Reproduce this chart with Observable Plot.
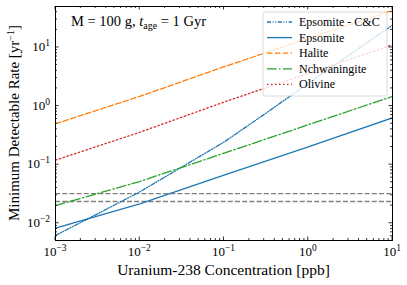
<!DOCTYPE html>
<html><head><meta charset="utf-8">
<script src="https://cdn.jsdelivr.net/npm/d3@7"></script>
<script src="https://cdn.jsdelivr.net/npm/@observablehq/plot@0.6"></script>
<style>body{margin:0;background:#fff} svg text, svg tspan{font-family:"Liberation Serif","Times New Roman",serif !important}</style>
</head><body><div id="chart"></div>
<script>
// Data (x: Uranium-238 concentration [ppb], y: minimum detectable rate [1/yr])
const concentration = [0.001, 0.01, 0.1, 1, 10];
const concentrationCC = [0.001, 0.00316, 0.01, 0.0316, 0.1, 0.316, 1, 3.16, 10];
const epsomiteCC = [0.0062, 0.0145, 0.0343, 0.0912, 0.243, 0.759, 2.45, 7.67, 24.0];
const epsomite = [0.0083, 0.0214, 0.066, 0.202, 0.63];
const halite = [0.50, 1.46, 4.69, 14.2, 42.8];
const nchwaningite = [0.020, 0.0516, 0.157, 0.48, 1.46];
const olivine = [0.12, 0.357, 1.17, 3.61, 11.1];
const thresholds = [0.032, 0.0235];
const xMajor = [0.001, 0.01, 0.1, 1, 10];
const yMajor = [0.01, 0.1, 1, 10];
const seriesNames = ["Epsomite - C&C", "Epsomite", "Halite", "Nchwaningite", "Olivine"];
const seriesColors = ["#1f77b4", "#1f77b4", "#ff7f0e", "#2ca02c", "#d62728"];
const seriesDash = ["4,1.6,1,1.6,1,1.6", null, "5.5,2.4", "9.6,2.4,1.5,2.4", "1.5,2.5"];

const seriesValues = [epsomiteCC, epsomite, halite, nchwaningite, olivine];
const rows = seriesNames.flatMap((name, i) => {
  const xs = i === 0 ? concentrationCC : concentration;
  return seriesValues[i].map((v, j) => ({series: name, x: xs[j], y: v}));
});

const plot = Plot.plot({
  width: 407, height: 285,
  marginLeft: 55, marginRight: 15, marginTop: 6, marginBottom: 45,
  x: {type: "log", domain: [1e-3, 10], axis: null},
  y: {type: "log", domain: [0.00508, 50], axis: null},
  style: {fontSize: "13px", background: "white", color: "black"},
  marks: [
    Plot.ruleY(thresholds, {stroke: "#808080", strokeWidth: 1.3, strokeDasharray: "5,2.2"}),
    ...seriesNames.map((name, i) => Plot.line(rows, {
      filter: d => d.series === name, x: "x", y: "y",
      stroke: seriesColors[i], strokeWidth: 1.3,
      strokeDasharray: seriesDash[i], clip: true
    })),
    Plot.frame({stroke: "black", strokeWidth: 1})
  ]
});
document.getElementById("chart").appendChild(plot);

const sx = plot.scale("x"), sy = plot.scale("y");
const [X0, X1] = sx.range, [Y1, Y0] = sy.range;
const svg = d3.select(plot);
const g = svg.append("g").attr("stroke", "black").attr("stroke-width", 0.8);

function minors(lo, hi) {
  const out = [];
  for (let e = Math.floor(Math.log10(lo)); e <= Math.ceil(Math.log10(hi)); e++)
    for (let k = 2; k <= 9; k++) { const v = k * Math.pow(10, e); if (v > lo && v < hi) out.push(v); }
  return out;
}
const xMinor = minors(1e-3, 10), yMinor = minors(0.00508, 50);
for (const [vals, len] of [[xMajor, 3.5], [xMinor, 2]]) for (const v of vals) {
  const px = sx.apply(v);
  g.append("line").attr("x1", px).attr("x2", px).attr("y1", Y1).attr("y2", Y1 - len);
  g.append("line").attr("x1", px).attr("x2", px).attr("y1", Y0).attr("y2", Y0 + len);
}
for (const [vals, len] of [[yMajor, 3.5], [yMinor, 2]]) for (const v of vals) {
  const py = sy.apply(v);
  g.append("line").attr("y1", py).attr("y2", py).attr("x1", X0).attr("x2", X0 + len);
  g.append("line").attr("y1", py).attr("y2", py).attr("x1", X1).attr("x2", X1 - len);
}

const expStr = v => String(Math.round(Math.log10(v))).replace("-", "\u2212");
const lab = svg.append("g").attr("font-size", 13).attr("fill", "black");
for (const v of xMajor) {
  const t = lab.append("text").attr("x", sx.apply(v)).attr("y", Y1 + 16).attr("text-anchor", "middle");
  t.append("tspan").text("10");
  t.append("tspan").attr("dy", -5).attr("font-size", 9.5).text(expStr(v));
}
for (const v of yMajor) {
  const t = lab.append("text").attr("x", X0 - 5).attr("y", sy.apply(v) + 4).attr("text-anchor", "end");
  t.append("tspan").text("10");
  t.append("tspan").attr("dy", -5).attr("font-size", 9.5).text(expStr(v));
}
svg.append("text").attr("x", (X0 + X1) / 2).attr("y", 275).attr("text-anchor", "middle")
  .attr("font-size", 15.5).attr("fill", "black").text("Uranium-238 Concentration [ppb]");
const yl = svg.append("text").attr("transform", `translate(19,${(Y0 + Y1) / 2}) rotate(-90)`)
  .attr("text-anchor", "middle").attr("font-size", 15).attr("fill", "black");
yl.append("tspan").text("Minimum Detectable Rate [yr");
yl.append("tspan").attr("dy", -5).attr("font-size", 10).text("\u22121");
yl.append("tspan").attr("dy", 5).text("]");

const ann = svg.append("text").attr("x", 71).attr("y", 26).attr("text-anchor", "start")
  .attr("font-size", 14.5).attr("fill", "black");
ann.append("tspan").text("M = 100 g, ");
ann.append("tspan").attr("font-style", "italic").text("t");
ann.append("tspan").attr("dy", 3).attr("font-size", 10).text("age");
ann.append("tspan").attr("dy", -3).text(" = 1 Gyr");

const lg = svg.append("g");
lg.append("rect").attr("x", 263).attr("y", 12).attr("width", 124).attr("height", 84).attr("rx", 2)
  .attr("fill", "white").attr("fill-opacity", 0.8).attr("stroke", "#d0d0d0").attr("stroke-width", 0.8);
seriesNames.forEach((name, i) => {
  const yy = 22 + i * 15.6;
  lg.append("line").attr("x1", 267).attr("x2", 292).attr("y1", yy).attr("y2", yy)
    .attr("stroke", seriesColors[i]).attr("stroke-width", 1.3)
    .attr("stroke-dasharray", seriesDash[i]);
  lg.append("text").attr("x", 299).attr("y", yy + 4).attr("text-anchor", "start")
    .attr("font-size", 12).attr("fill", "black").text(name);
});
</script></body></html>
